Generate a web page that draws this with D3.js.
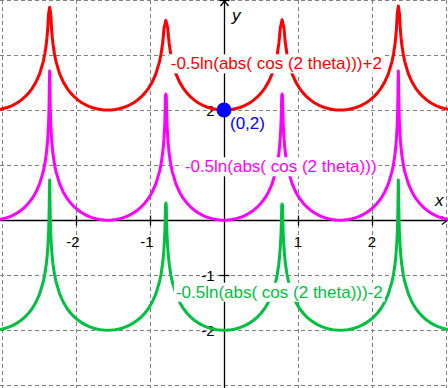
<!DOCTYPE html>
<head>
    <meta charset="utf-8">
    <title>-0.5ln|cos 2theta|</title>
    <script src="https://d3js.org/d3.v7.min.js"></script>
    <style>
        body { margin: 0; background: #fff; }
        svg { display: block; }
        text { font-family: "Liberation Sans", Arial, sans-serif; }
    </style>
</head>
<body>
    <div id="container"></div>
    <script>
        //------------------------1. DATA------------------------//
        var seriesNames = ["-0.5ln(abs( cos (2 theta)))+2", "-0.5ln(abs( cos (2 theta)))", "-0.5ln(abs( cos (2 theta)))-2"],
            seriesOffset = [2, 0, -2],
            seriesColor = ["#ff0000", "#ff00ff", "#00c040"];

        // one half of a bowl: distance from bowl centre -> height
        var halfBowlDx = [0, 0.05, 0.1, 0.15, 0.2, 0.25, 0.3, 0.35, 0.4, 0.45, 0.5, 0.55, 0.6, 0.65, 0.7, 0.72, 0.74, 0.75, 0.76, 0.77, 0.775, 0.78, 0.782, 0.784],
            halfBowlY = [0, 0.003, 0.010, 0.023, 0.041, 0.065, 0.096, 0.134, 0.181, 0.238, 0.308, 0.395, 0.508, 0.659, 0.886, 1.018, 1.200, 1.324, 1.490, 1.740, 1.937, 2.264, 2.496, 2.940];

        var bowlCenters = [-3.1416, -1.5708, 0, 1.5708, 3.1416],
            spikeX = [-2.356, -0.785, 0.785, 2.356],
            // height of each sampled spike tip above the curve's offset
            spikeTops = [
                [1.87, 1.63, 1.64, 1.89],
                [2.71, 2.29, 2.29, 2.71],
                [2.73, 2.31, 2.29, 2.73]
            ];

        var xTicks = [-2, -1, 1, 2],
            yTicks = [-2, -1, 1, 2, 3, 4],
            yTickLabels = [-2, -1, 2],
            xGrid = [-3, -2, -1, 1, 2, 3],
            yGrid = [-3, -2, -1, 1, 2, 3, 4],
            point = { x: 0, y: 2, label: "(0,2)" };

        //------------------------2. SETUP------------------------//
        var width = 448, height = 388;
        var x = d3.scaleLinear().domain([-3.027, 3.027]).range([0, width]),
            y = d3.scaleLinear().domain([-3.05, 4.0]).range([height, 0]);

        var svg = d3.select("#container").append("svg")
            .attr("width", width).attr("height", height);

        //------------------------3. GRID------------------------//
        svg.append("g").selectAll("line").data(xGrid).enter().append("line")
            .attr("x1", d => Math.round(x(d)) + 0.5).attr("x2", d => Math.round(x(d)) + 0.5)
            .attr("y1", 0).attr("y2", height);
        svg.append("g").selectAll("line").data(yGrid).enter().append("line")
            .attr("y1", d => Math.round(y(d)) + 0.5).attr("y2", d => Math.round(y(d)) + 0.5)
            .attr("x1", 0).attr("x2", width);
        svg.selectAll("g line")
            .attr("stroke", "#808080").attr("stroke-width", 1).attr("stroke-dasharray", "4,3");

        //------------------------4. AXES------------------------//
        var x0 = Math.round(x(0)) + 0.5, y0 = Math.round(y(0)) + 0.5;
        var axes = svg.append("g").attr("stroke", "#000").attr("stroke-width", 1.3).attr("fill", "none");
        axes.append("line").attr("x1", 0).attr("x2", width).attr("y1", y0).attr("y2", y0);
        axes.append("line").attr("x1", x0).attr("x2", x0).attr("y1", 0).attr("y2", height);
        axes.append("path").attr("d", "M" + (width - 6) + "," + (y0 - 4) + "L" + (width - 1) + "," + y0 + "L" + (width - 6) + "," + (y0 + 4));
        axes.append("path").attr("d", "M" + (x0 - 4) + ",6L" + x0 + ",1L" + (x0 + 4) + ",6");
        axes.selectAll(".xt").data(xTicks).enter().append("line")
            .attr("x1", d => Math.round(x(d)) + 0.5).attr("x2", d => Math.round(x(d)) + 0.5)
            .attr("y1", y0 - 5).attr("y2", y0 + 5);
        axes.selectAll(".yt").data(yTicks).enter().append("line")
            .attr("y1", d => Math.round(y(d)) + 0.5).attr("y2", d => Math.round(y(d)) + 0.5)
            .attr("x1", x0 - 5).attr("x2", x0 + 5);

        svg.append("g").selectAll("text").data(xTicks).enter().append("text")
            .attr("x", d => x(d) - (d < 0 ? 3 : 0)).attr("y", y0 + 26)
            .attr("text-anchor", "middle").attr("font-size", 15)
            .text(d => d < 0 ? "-" + Math.abs(d) : d);
        svg.append("g").selectAll("text").data(yTickLabels).enter().append("text")
            .attr("x", x0 - 10).attr("y", d => y(d) + 6)
            .attr("text-anchor", "end").attr("font-size", 15)
            .text(d => d < 0 ? "-" + Math.abs(d) : d);

        svg.append("text").attr("x", 232).attr("y", 21).attr("font-size", 17)
            .attr("font-style", "italic").text("y");
        svg.append("text").attr("x", 435).attr("y", 206).attr("font-size", 17)
            .attr("font-style", "italic").text("x");

        //------------------------5. CURVES------------------------//
        function curvePoints(si) {
            var pts = [];
            bowlCenters.forEach(function (c, bi) {
                var topL = bi > 0 ? spikeTops[si][bi - 1] : Infinity,
                    topR = bi < spikeX.length ? spikeTops[si][bi] : Infinity;
                // left half of the bowl, approaching previous spike
                for (var i = halfBowlDx.length - 1; i > 0; i--) {
                    if (halfBowlY[i] < topL) pts.push([c - halfBowlDx[i], halfBowlY[i]]);
                }
                pts.push([c, halfBowlY[0]]);
                for (var j = 1; j < halfBowlDx.length; j++) {
                    if (halfBowlY[j] < topR) pts.push([c + halfBowlDx[j], halfBowlY[j]]);
                }
                if (bi < spikeX.length) pts.push([spikeX[bi], spikeTops[si][bi]]);
            });
            return pts.map(p => [p[0], p[1] + seriesOffset[si]]);
        }

        var line = d3.line().x(d => x(d[0])).y(d => y(d[1]));
        svg.append("g").selectAll("path").data(seriesNames).enter().append("path")
            .attr("d", (d, i) => line(curvePoints(i)))
            .attr("fill", "none")
            .attr("stroke", (d, i) => seriesColor[i])
            .attr("stroke-width", 3)
            .attr("stroke-linejoin", "round");

        //------------------------6. LABELS------------------------//
        var labelPos = [[-0.72, 2.74], [-0.53, 0.87], [-0.65, -1.41]];
        seriesNames.forEach(function (name, i) {
            var g = svg.append("g");
            var t = g.append("text")
                .attr("x", x(labelPos[i][0])).attr("y", y(labelPos[i][1]))
                .attr("font-size", 17).attr("fill", seriesColor[i])
                .text(name);
            var bb = t.node().getBBox();
            g.insert("rect", "text")
                .attr("x", bb.x - 2).attr("y", bb.y)
                .attr("width", bb.width + 4).attr("height", bb.height)
                .attr("fill", "#fff");
        });

        svg.append("circle").attr("cx", x(point.x)).attr("cy", y(point.y)).attr("r", 7.5)
            .attr("fill", "#0000ff");
        svg.append("text").attr("x", x(point.x) + 6).attr("y", y(point.y) + 19)
            .attr("font-size", 17).attr("fill", "#0000ff").text(point.label);
    </script>
</body>
